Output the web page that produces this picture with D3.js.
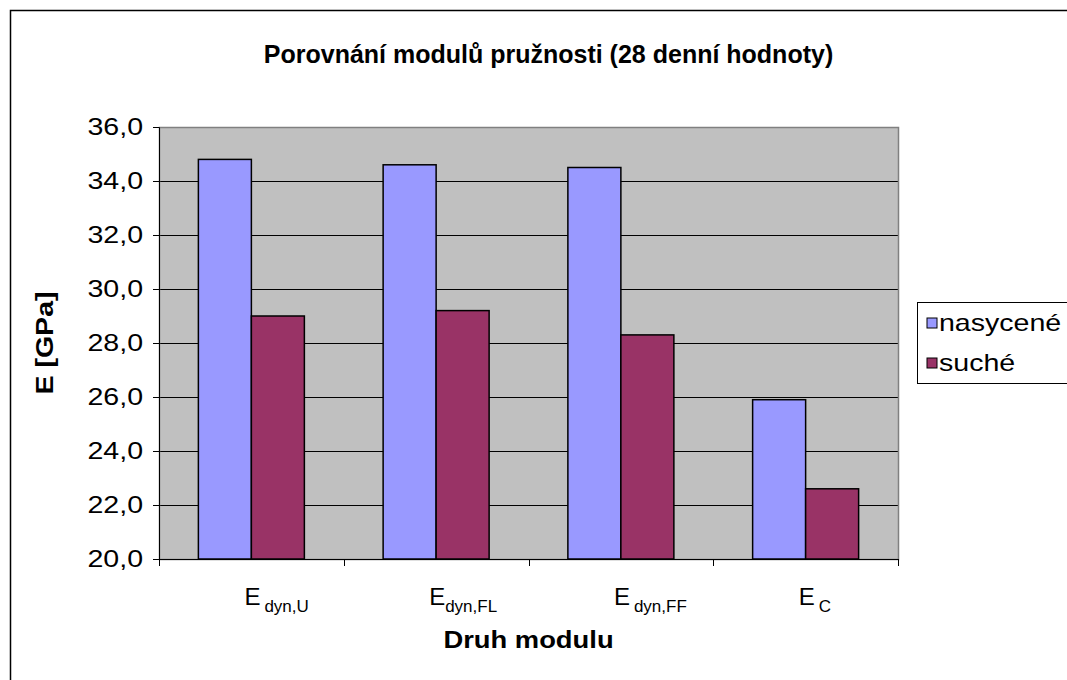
<!DOCTYPE html>
<html>
<head>
<meta charset="utf-8">
<script src="https://cdn.jsdelivr.net/npm/d3@7"></script>
<style>
  html, body { margin: 0; padding: 0; background: #fff; }
  svg text { font-family: "Liberation Sans", Arial, sans-serif; }
</style>
</head>
<body>
<svg id="chart" width="1067" height="680"></svg>
<script>
// ---- data ----
const categories = ["Edyn,U", "Edyn,FL", "Edyn,FF", "EC"];
const catMain = ["E", "E", "E", "E"];
const catSub = ["dyn,U", "dyn,FL", "dyn,FF", "C"];
const seriesNames = ["nasycené", "suché"];
const nasycene = [34.8, 34.6, 34.5, 25.9];
const suche = [29.0, 29.2, 28.3, 22.6];
const yTicks = [20, 22, 24, 26, 28, 30, 32, 34, 36];
const colors = ["#9999ff", "#993366"];
const titleText = "Porovnání modulů pružnosti (28 denní hodnoty)";
const xTitle = "Druh modulu";
const yTitle = "E [GPa]";

const svg = d3.select("#chart");
const W = 1067, H = 680;
const SX = 1.19; // horizontal stretch of the reference's text

// outer chart border
svg.append("rect").attr("x", 10.5).attr("y", 10.5).attr("width", W + 10).attr("height", H + 10)
  .attr("fill", "#fff").attr("stroke", "#000").attr("stroke-width", 1.5);

const plot = { left: 159, right: 898, top: 127, bottom: 559 };

const x = d3.scaleBand().domain(categories).range([plot.left, plot.right]).padding(0);
const xs = d3.scaleBand().domain(seriesNames).range([0, x.bandwidth()]).paddingInner(0).paddingOuter(0.743);
const y = d3.scaleLinear().domain([20, 36]).range([plot.bottom, plot.top]);

// plot background
svg.append("rect").attr("x", plot.left).attr("y", plot.top)
  .attr("width", plot.right - plot.left).attr("height", plot.bottom - plot.top)
  .attr("fill", "#c0c0c0");

// gridlines
svg.append("g").selectAll("line").data(yTicks.slice(1)).join("line")
  .attr("x1", plot.left).attr("x2", plot.right)
  .attr("y1", d => Math.round(y(d)) + 0.5).attr("y2", d => Math.round(y(d)) + 0.5)
  .attr("stroke", "#000").attr("stroke-width", 1.2);

// plot border (gray)
svg.append("rect").attr("x", plot.left + 0.5).attr("y", plot.top + 0.5)
  .attr("width", plot.right - plot.left).attr("height", plot.bottom - plot.top)
  .attr("fill", "none").attr("stroke", "#808080").attr("stroke-width", 1.5);

// bars
const data = categories.map((c, i) => ({ c, vals: [nasycene[i], suche[i]] }));
const groups = svg.append("g").selectAll("g").data(data).join("g")
  .attr("transform", d => `translate(${x(d.c)},0)`);
groups.selectAll("rect").data(d => d.vals.map((v, j) => ({ s: seriesNames[j], v, j }))).join("rect")
  .attr("x", d => xs(d.s))
  .attr("y", d => y(d.v))
  .attr("width", xs.bandwidth())
  .attr("height", d => y(20) - y(d.v))
  .attr("fill", d => colors[d.j])
  .attr("stroke", "#000").attr("stroke-width", 1.5);

// y axis
const yAxis = d3.axisLeft(y).tickValues(yTicks).tickSize(6).tickPadding(10)
  .tickFormat(d => d3.format(".1f")(d).replace(".", ","));
const gy = svg.append("g").attr("transform", `translate(${plot.left},0)`).call(yAxis);
gy.select(".domain").attr("stroke", "#000").attr("stroke-width", 1);
gy.selectAll(".tick line").attr("stroke", "#000");
gy.selectAll(".tick text").attr("font-size", 24).attr("fill", "#000")
  .attr("font-family", "Liberation Sans, Arial, sans-serif")
  .attr("x", -16 / SX).attr("transform", `scale(${SX},1)`);

// x axis (ticks at category boundaries)
const boundaries = categories.map(c => x(c)).concat([x(categories[categories.length - 1]) + x.bandwidth()]);
svg.append("line").attr("x1", plot.left).attr("x2", plot.right)
  .attr("y1", plot.bottom + 0.5).attr("y2", plot.bottom + 0.5).attr("stroke", "#000");
svg.append("g").selectAll("line").data(boundaries).join("line")
  .attr("x1", d => Math.round(d) + 0.5).attr("x2", d => Math.round(d) + 0.5)
  .attr("y1", plot.bottom).attr("y2", plot.bottom + 7).attr("stroke", "#000");

// category labels with subscripts
const labels = svg.append("g").selectAll("text").data(categories).join("text")
  .attr("x", d => x(d) + x.bandwidth() / 2 - 7)
  .attr("y", 605)
  .attr("font-size", 24).attr("fill", "#000");
labels.append("tspan").text((d, i) => catMain[i]);
labels.append("tspan").attr("dx", (d, i) => i === 1 ? 0 : 4).attr("dy", 7).attr("font-size", 17)
  .text((d, i) => catSub[i]);

// stretched text helper
function sText(px, py, str, size, bold, anchor, rot, sx) {
  const t = svg.append("text")
    .attr("transform", `translate(${px},${py})${rot ? " rotate(-90)" : ""} scale(${sx},1)`)
    .attr("text-anchor", anchor).attr("font-size", size).attr("fill", "#000")
    .text(str);
  if (bold) t.attr("font-weight", "bold");
  return t;
}

// title
sText((plot.left + plot.right) / 2 + 20, 63, titleText, 25, true, "middle", false, 1);
// axis titles
sText((plot.left + plot.right) / 2, 648, xTitle, 23, true, "middle", false, SX);
sText(53, (plot.top + plot.bottom) / 2, yTitle, 24, true, "middle", true, SX);

// legend
const lg = svg.append("g").attr("transform", "translate(917,302)");
lg.append("rect").attr("x", 0.5).attr("y", 0.5).attr("width", 160).attr("height", 81)
  .attr("fill", "#fff").attr("stroke", "#000").attr("stroke-width", 1);
const items = lg.selectAll("g.item").data(seriesNames).join("g").attr("class", "item")
  .attr("transform", (d, i) => `translate(10,${16 + i * 40})`);
items.append("rect").attr("width", 10).attr("height", 10)
  .attr("fill", (d, i) => colors[i]).attr("stroke", "#000").attr("stroke-width", 1);
items.append("text").attr("transform", `translate(12,13) scale(${SX},1)`)
  .attr("font-size", 24).text(d => d);
</script>
</body>
</html>
